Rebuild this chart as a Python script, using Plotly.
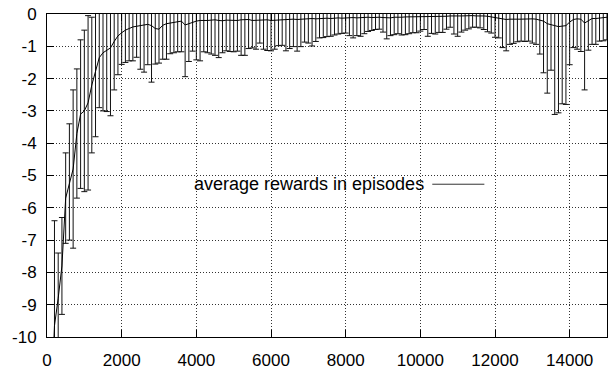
import plotly.graph_objects as go

episodes = list(range(100, 15100, 100))

mean_reward = [
    -12.5, -9.65, -8.8, -7.8, -5.7, -5.2, -4.8, -3.7, -3.1, -3.0,
    -2.75, -2.2, -1.8, -1.35, -1.2, -1.12, -1.05, -0.85, -0.68, -0.58,
    -0.5, -0.45, -0.4, -0.38, -0.36, -0.35, -0.32, -0.36, -0.45, -0.47,
    -0.35, -0.3, -0.28, -0.25, -0.22, -0.22, -0.34, -0.3, -0.25, -0.22,
    -0.2, -0.21, -0.2, -0.19, -0.18, -0.2, -0.21, -0.19, -0.2, -0.19,
    -0.2, -0.18, -0.18, -0.17, -0.2, -0.19, -0.18, -0.17, -0.18, -0.2,
    -0.19, -0.18, -0.18, -0.17, -0.17, -0.16, -0.17, -0.16, -0.15, -0.15,
    -0.14, -0.15, -0.14, -0.13, -0.13, -0.14, -0.12, -0.12, -0.13, -0.12,
    -0.12, -0.11, -0.12, -0.11, -0.11, -0.1, -0.11, -0.1, -0.1, -0.11,
    -0.12, -0.12, -0.1, -0.11, -0.1, -0.09, -0.09, -0.08, -0.09, -0.08,
    -0.08, -0.09, -0.08, -0.07, -0.07, -0.08, -0.07, -0.06, -0.07, -0.06,
    -0.06, -0.05, -0.06, -0.05, -0.06, -0.05, -0.06, -0.07, -0.09, -0.12,
    -0.15, -0.16, -0.17, -0.16, -0.17, -0.16, -0.16, -0.15, -0.16, -0.15,
    -0.16, -0.19, -0.22, -0.3, -0.32, -0.36, -0.39, -0.38, -0.36, -0.25,
    -0.17, -0.15, -0.16, -0.28, -0.2, -0.14, -0.14, -0.12, -0.11, -0.1,
]

reward_err = [
    1.0, 3.25, 1.4, 1.5, 1.4, 1.8, 2.45, 2.0, 2.3, 2.5,
    2.7, 2.1, 2.0, 1.55, 1.8, 1.9, 2.1, 1.5, 1.2, 0.98,
    1.0, 1.0, 1.05, 0.96, 1.35, 1.45, 1.25, 1.75, 1.1, 1.05,
    1.05, 1.1, 0.95, 0.95, 0.95, 0.95, 1.6, 1.17, 0.9, 1.2,
    1.25, 0.96, 1.0, 1.05, 1.1, 1.15, 0.99, 0.95, 0.96, 0.98,
    0.95, 1.1, 1.1, 0.9, 0.85, 0.9, 0.72, 0.92, 0.95, 0.94,
    0.9, 0.8, 0.79, 0.97, 0.9, 0.85, 0.98, 0.85, 0.72, 0.75,
    0.85, 0.7, 0.6, 0.6, 0.57, 0.55, 0.53, 0.5, 0.47, 0.47,
    0.55, 0.63, 0.55, 0.58, 0.5, 0.44, 0.4, 0.38, 0.37, 0.45,
    0.65, 0.55, 0.54, 0.5, 0.55, 0.55, 0.52, 0.5, 0.49, 0.45,
    0.4, 0.6, 0.52, 0.55, 0.5, 0.49, 0.4, 0.35, 0.55, 0.63,
    0.5, 0.45, 0.4, 0.36, 0.35, 0.38, 0.42, 0.48, 0.5, 0.6,
    0.59, 0.88, 0.97, 0.78, 0.74, 0.7, 0.68, 0.7, 0.68, 0.75,
    0.78, 1.05, 1.6, 2.15, 1.42, 2.75, 2.67, 2.4, 2.44, 1.32,
    0.87, 0.94, 1.0, 2.07, 0.92, 0.8, 0.8, 0.72, 0.72, 0.7,
]

x_tick_vals = [0, 2000, 4000, 6000, 8000, 10000, 12000, 14000]
x_tick_labels = ["0", "2000", "4000", "6000", "8000", "10000", "12000", "14000"]
y_tick_vals = [0, -1, -2, -3, -4, -5, -6, -7, -8, -9, -10]
y_tick_labels = ["0", "-1", "-2", "-3", "-4", "-5", "-6", "-7", "-8", "-9", "-10"]
legend_label = "average rewards in episodes"

FONT = "Liberation Sans, Arial, Helvetica, sans-serif"

fig = go.Figure()
fig.add_trace(go.Scatter(
    x=episodes, y=mean_reward, mode="lines",
    line=dict(color="#000000", width=1),
    error_y=dict(type="data", array=reward_err, symmetric=True,
                 color="#111111", thickness=1, width=3),
    showlegend=False,
))

axis_common = dict(
    showline=True, linecolor="#000000", linewidth=1, mirror="ticks",
    ticks="inside", ticklen=7, tickcolor="#000000", tickwidth=1,
    showgrid=True, gridcolor="#333333", griddash="1px,2px", gridwidth=1,
    zeroline=False,
    tickfont=dict(family=FONT, size=17, color="#000000"),
)

fig.update_xaxes(range=[0, 15000], tickvals=x_tick_vals, ticktext=x_tick_labels,
                 ticklabelstandoff=8, **axis_common)
fig.update_yaxes(range=[-10, 0], tickvals=y_tick_vals, ticktext=y_tick_labels,
                 ticklabelstandoff=6, **axis_common)

fig.add_annotation(
    xref="paper", yref="paper", x=0.676, y=0.474,
    xanchor="right", yanchor="middle", showarrow=False,
    text=legend_label, font=dict(family=FONT, size=18, color="#000000"),
)
fig.add_shape(type="line", xref="paper", yref="paper",
              x0=0.688, x1=0.781, y0=0.473, y1=0.473,
              line=dict(color="#333333", width=1))

fig.update_layout(
    width=613, height=375,
    margin=dict(l=47, r=5, t=10, b=31),
    paper_bgcolor="#ffffff", plot_bgcolor="#ffffff",
    font=dict(family=FONT, size=17, color="#000000"),
)

fig.write_html("out.html")
